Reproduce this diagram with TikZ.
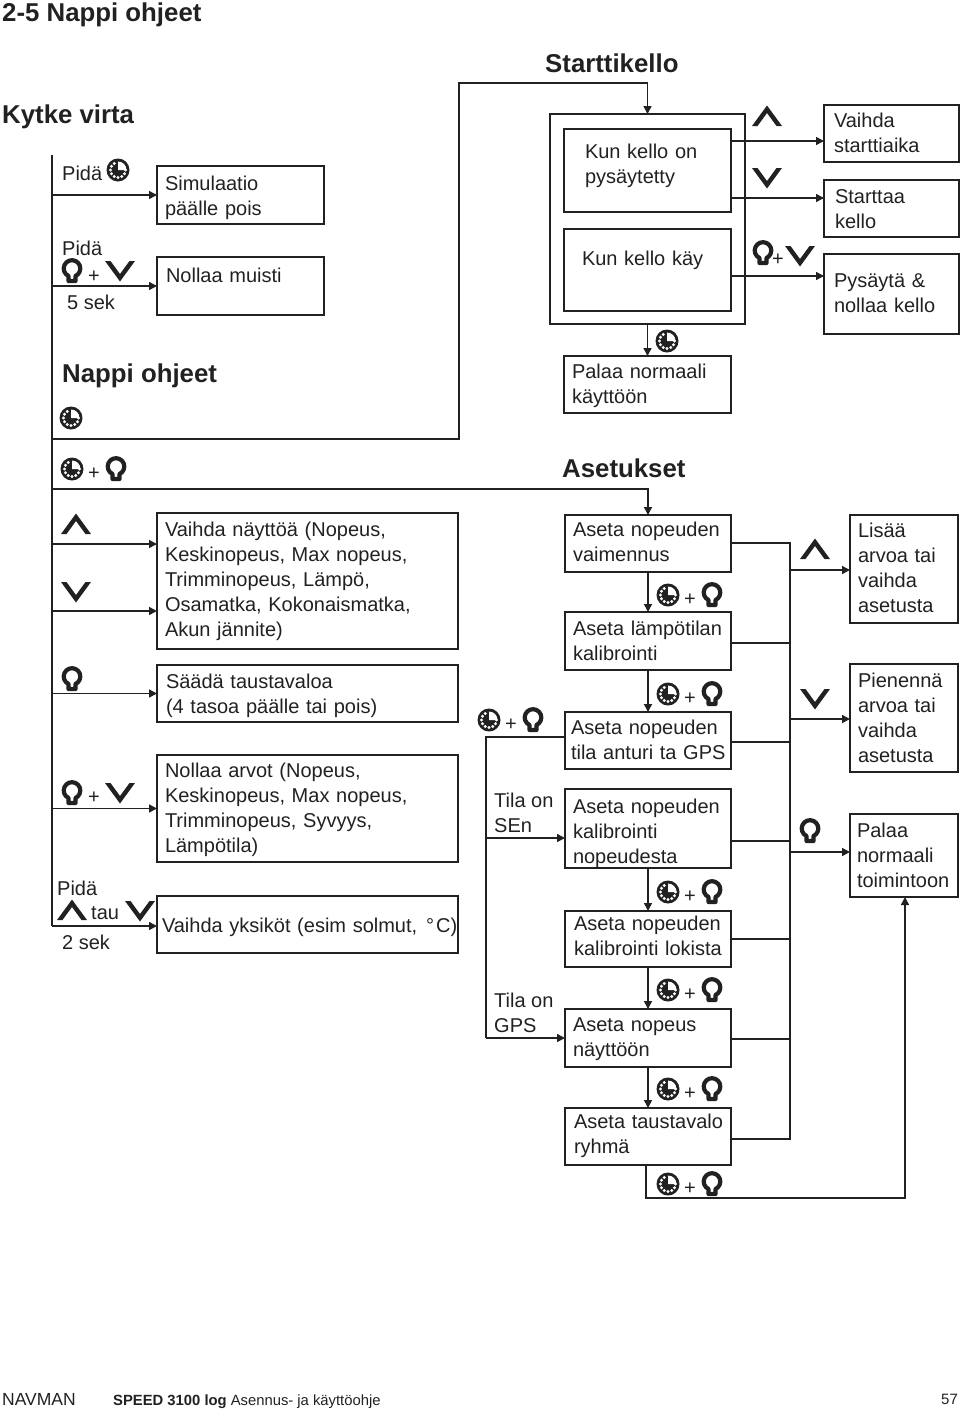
\documentclass[tikz,border=0pt]{standalone}
\usepackage{fontspec}
\setmainfont{Liberation Sans}
\usetikzlibrary{arrows.meta}
\definecolor{ink}{gray}{0.13}
\tikzset{
  box/.style n args={4}{draw=ink,line width=1.5pt,anchor=north west,align=left,outer sep=0pt,inner ysep=0pt,
    inner xsep=#3pt,text width=#1pt-2*#3pt,text height=#4pt-0.5pt,text depth=#2pt-#4pt+0.5pt},
  lab/.style={anchor=base west,inner sep=0pt,yshift=0.5pt},
  head/.style={lab,font=\fontsize{25.8}{30}\selectfont\bfseries},
  wire/.style={draw=ink,line width=1.5pt},
  arr/.style={wire,-{Triangle[length=8pt,width=8pt]}},
  pics/clockkey/.style={code={
    \begin{scope}[y=1pt]
      \fill[ink] (0,0) circle[radius=11.5pt];
      \fill[white] (0,0) -- (8.5,0) arc[start angle=0,end angle=90,radius=8.5pt] -- cycle;
      \foreach \a in {120,150,...,360} \fill[white] (\a:7.5pt) circle[radius=1.7pt];
    \end{scope}}},
  pics/bulbkey/.style={code={
    \draw[ink,y=1pt,line width=4.2pt,line join=round] (-3.5,-5) arc[start angle=245,end angle=-65,radius=8.3pt]
      -- (3.5,-10) -- (-3.5,-10) -- cycle;}},
  pics/upkey/.style={code={
    \fill[ink,y=1pt] (-15,-10) -- (0,10.5) -- (15,-10) -- (9.5,-10) -- (0,3) -- (-9.5,-10) -- cycle;}},
  pics/downkey/.style={code={
    \fill[ink,y=1pt] (-15,10) -- (0,-10.5) -- (15,10) -- (9.5,10) -- (0,-3) -- (-9.5,10) -- cycle;}},
  pics/setkeys/.style={code={
    \pic at (0,0) {clockkey};
    \pic at (44,0) {bulbkey};
    \node[lab] (-plus) at (16,11) {+};}},
}
\begin{document}
\begin{tikzpicture}[x=1pt,y=-1pt,every node/.style={font=\fontsize{20}{25}\selectfont,text=ink}]
\useasboundingbox (0,0) rectangle (960,1414);
% titles
\node[head] (tmain) at (2,22) {2-5 Nappi ohjeet};
\node[head] (tpower) at (2,124) {Kytke virta};
\node[head] (tbuttons) at (62,383) {Nappi ohjeet};
\node[head] (tclock) at (545,73) {Starttikello};
\node[head] (tsetup) at (562,478) {Asetukset};
% left column
\node[box={167}{58}{8}{25}] (simul) at (157,166) {Simulaatio\\päälle pois};
\node[box={167}{58}{9}{26}] (reset) at (157,257) {Nollaa muisti};
\node[box={301}{136}{8}{24}] (display) at (157,513) {Vaihda näyttöä (Nopeus,\\Keskinopeus, Max nopeus,\\Trimminopeus, Lämpö,\\Osamatka, Kokonaismatka,\\Akun jännite)};
\node[box={301}{57}{9}{24}] (light) at (157,665) {Säädä taustavaloa\\(4 tasoa päälle tai pois)};
\node[box={301}{107}{8}{23}] (zero) at (157,755) {Nollaa arvot (Nopeus,\\Keskinopeus, Max nopeus,\\Trimminopeus, Syvyys,\\Lämpötila)};
\node[box={301}{57}{5}{37}] (units) at (157,896) {\mbox{Vaihda yksiköt (esim solmut,\hspace{9pt}°\hspace{2pt}C)}};
% start clock
\node[draw=ink,line width=1.5pt,anchor=north west,outer sep=0pt,inner sep=0pt,minimum width=195pt,minimum height=210pt] (clockbox) at (550,114) {};
\node[box={167}{83}{21}{30}] (stopped) at (564,129) {Kun kello on\\pysäytetty};
\node[box={167}{82}{18}{37}] (running) at (564,229) {Kun kello käy};
\node[box={167}{57}{8}{23}] (normal) at (564,356) {Palaa normaali\\käyttöön};
\node[box={135}{57}{10}{23}] (starttime) at (824,105) {Vaihda\\starttiaika};
\node[box={135}{57}{11}{24}] (startclock) at (824,180) {Starttaa\\kello};
\node[box={135}{80}{10}{34}] (stopclock) at (824,254) {Pysäytä \&\\nollaa kello};
% settings
\node[box={166}{57}{8}{22}] (damp) at (565,515) {Aseta nopeuden\\vaimennus};
\node[box={166}{58}{8}{24}] (temp) at (565,612) {Aseta lämpötilan\\kalibrointi};
\node[box={166}{57}{6}{23}] (source) at (565,712) {Aseta nopeuden\\\mbox{tila anturi ta GPS}};
\node[box={166}{79}{8}{25}] (calsp) at (565,789) {Aseta nopeuden\\kalibrointi\\nopeudesta};
\node[box={166}{56}{9}{20}] (callog) at (565,911) {Aseta nopeuden\\\mbox{kalibrointi lokista}};
\node[box={166}{58}{8}{23}] (speed) at (565,1009) {Aseta nopeus\\näyttöön};
\node[box={166}{57}{9}{21}] (group) at (565,1108) {\mbox{Aseta taustavalo}\\ryhmä};
\node[box={108}{108}{8}{23}] (incr) at (850,515) {Lisää\\arvoa tai\\vaihda\\asetusta};
\node[box={108}{108}{8}{24}] (decr) at (850,664) {Pienennä\\arvoa tai\\vaihda\\asetusta};
\node[box={108}{83}{7}{24}] (back) at (850,814) {Palaa\\normaali\\toimintoon};
% free labels
\node[lab] (hold1) at (62,181) {Pidä};
\node[lab] (hold2) at (62,256) {Pidä};
\node[lab] (plus1) at (88,283) {+};
\node[lab] (sek5) at (67,310) {5 sek};
\node[lab] (plus3) at (88,804) {+};
\node[lab] (hold3) at (57,896) {Pidä};
\node[lab] (both) at (91,920) {tau};
\node[lab] (sek2) at (62,950) {2 sek};
\node[lab] (plus4) at (772,266) {+};
\node[lab] (modesen) at (494,808) {Tila on};
\node[lab] (sen) at (494,833) {SEn};
\node[lab] (modegps) at (494,1008) {Tila on};
\node[lab] (gps) at (494,1033) {GPS};
\node[lab,font=\fontsize{17.5}{20}\selectfont] (brand) at (2,1406) {NAVMAN};
\node[lab,font=\fontsize{14.8}{18}\selectfont] (foot) at (113,1406) {{\bfseries SPEED 3100 log} Asennus- ja käyttöohje};
\node[lab,font=\fontsize{15}{18}\selectfont] (pageno) at (941,1405) {57};
% key icons
\pic at (118,170) {clockkey};
\pic at (72,271) {bulbkey};
\pic at (120,271) {downkey};
\pic at (71,418) {clockkey};
\pic (keyA) at (72,469) {setkeys};
\pic at (76,524) {upkey};
\pic at (76,592) {downkey};
\pic at (72,679) {bulbkey};
\pic at (72,793) {bulbkey};
\pic at (120,793) {downkey};
\pic at (72,910) {upkey};
\pic at (140,911) {downkey};
\pic at (767,116) {upkey};
\pic at (767,178) {downkey};
\pic at (763,253) {bulbkey};
\pic at (800,256) {downkey};
\pic at (667,341) {clockkey};
\pic (keyB) at (489,720) {setkeys};
\pic (keyC) at (668,595) {setkeys};
\pic (keyD) at (668,694) {setkeys};
\pic (keyE) at (668,892) {setkeys};
\pic (keyF) at (668,990) {setkeys};
\pic (keyG) at (668,1089) {setkeys};
\pic (keyH) at (668,1184) {setkeys};
\pic at (815,549) {upkey};
\pic at (815,699) {downkey};
\pic at (810,831) {bulbkey};
% left bus
\coordinate (ltop) at (52,155);
\coordinate (lturn) at (52,439);
\coordinate (lset) at (52,489);
\coordinate (lup) at (52,544);
\coordinate (ldown) at (52,611);
\coordinate (lend) at (52,926);
\coordinate (cturn) at (459,83);
\draw[wire] (ltop) -- (lend);
\draw[arr] (ltop|-simul.west) -- (simul.west);
\draw[arr] (ltop|-reset.west) -- (reset.west);
\draw[arr] (lup) -- (lup-|display.west);
\draw[arr] (ldown) -- (ldown-|display.west);
\draw[arr] (ltop|-light.west) -- (light.west);
\draw[arr] (ltop|-zero.west) -- (zero.west);
\draw[arr] (lend) -- (lend-|units.west);
\draw[arr] (lturn) -- (lturn-|cturn) -- (cturn) -- (cturn-|clockbox.north) -- (clockbox.north);
\draw[arr] (lset) -- (lset-|damp.north) -- (damp.north);
% start clock wires
\coordinate (c1) at (731,141);
\coordinate (c2) at (731,198);
\coordinate (c3) at (731,276);
\draw[arr] (c1) -- (c1-|starttime.west);
\draw[arr] (c2) -- (c2-|startclock.west);
\draw[arr] (c3) -- (c3-|stopclock.west);
\draw[arr] (clockbox.south) -- (normal.north);
% settings chain
\draw[arr] (damp.south) -- (temp.north);
\draw[arr] (temp.south) -- (source.north);
\draw[arr] (calsp.south) -- (callog.north);
\draw[arr] (callog.south) -- (speed.north);
\draw[arr] (speed.south) -- (group.north);
% mode branch
\coordinate (mtop) at (486,737);
\coordinate (msen) at (486,838);
\coordinate (mgps) at (486,1038);
\draw[wire] (mtop-|source.west) -- (mtop) -- (mgps);
\draw[arr] (msen) -- (msen-|calsp.west);
\draw[arr] (mgps) -- (mgps-|speed.west);
% right bus
\coordinate (r1) at (790,543);
\coordinate (r2) at (790,643);
\coordinate (r3) at (790,742);
\coordinate (r4) at (790,841);
\coordinate (r5) at (790,939);
\coordinate (r6) at (790,1039);
\coordinate (r7) at (790,1139);
\draw[wire] (r1-|damp.east) -- (r1) -- (r7) -- (r7-|group.east);
\draw[wire] (r2-|temp.east) -- (r2);
\draw[wire] (r3-|source.east) -- (r3);
\draw[wire] (r4-|calsp.east) -- (r4);
\draw[wire] (r5-|callog.east) -- (r5);
\draw[wire] (r6-|speed.east) -- (r6);
\coordinate (a1) at (790,570);
\coordinate (a2) at (790,719);
\coordinate (a3) at (790,852);
\draw[arr] (a1) -- (a1-|incr.west);
\draw[arr] (a2) -- (a2-|decr.west);
\draw[arr] (a3) -- (a3-|back.west);
% back to normal
\coordinate (bturn) at (646,1198);
\coordinate (bup) at (905,1198);
\draw[arr] (bturn|-group.south) -- (bturn) -- (bup) -- (bup|-back.south);
\end{tikzpicture}
\end{document}
